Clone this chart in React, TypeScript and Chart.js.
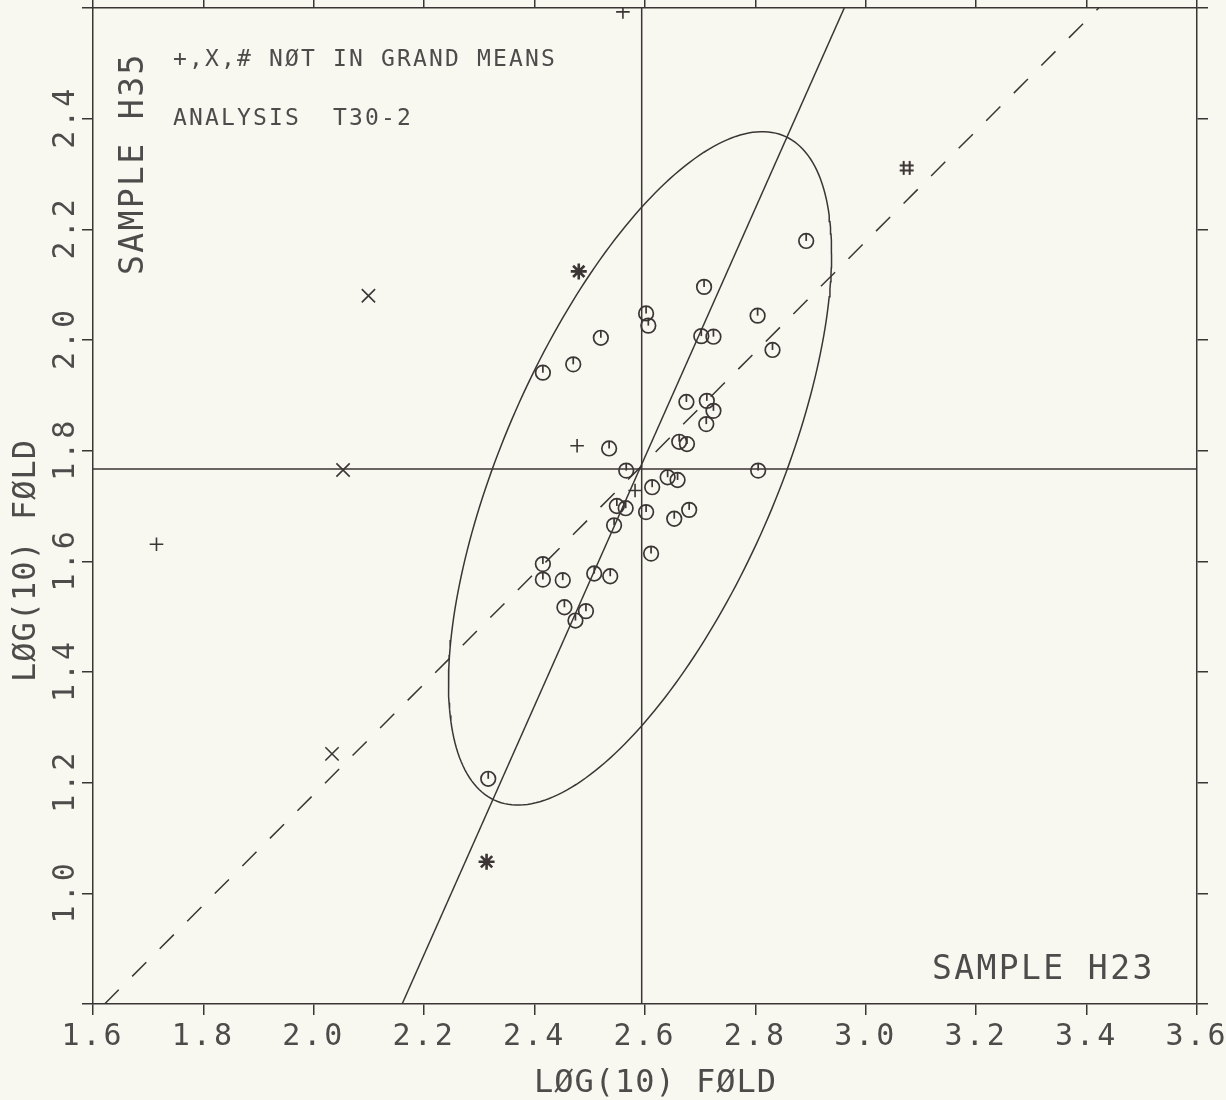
import React, { useEffect, useRef } from 'react';
import { Chart, registerables } from 'chart.js';

Chart.register(...registerables);

// ---------- axis ticks ----------
const X_TICKS = [1.6, 1.8, 2.0, 2.2, 2.4, 2.6, 2.8, 3.0, 3.2, 3.4, 3.6];
const X_TICK_LABELS = ['1.6', '1.8', '2.0', '2.2', '2.4', '2.6', '2.8', '3.0', '3.2', '3.4', '3.6'];
const Y_TICKS = [0.8, 1.0, 1.2, 1.4, 1.6, 1.8, 2.0, 2.2, 2.4, 2.6];
const Y_TICK_LABELS = ['', '1.0', '1.2', '1.4', '1.6', '1.8', '2.0', '2.2', '2.4', ''];

// ---------- data: samples in grand means (circles) ----------
const CIRCLE_X = [
  2.316, 2.415, 2.415, 2.415, 2.451, 2.454, 2.474, 2.493, 2.508, 2.537,
  2.470, 2.520, 2.535, 2.544, 2.549, 2.565, 2.566, 2.602, 2.602, 2.606,
  2.613, 2.611, 2.641, 2.659, 2.653, 2.680, 2.662, 2.676, 2.675, 2.712,
  2.724, 2.711, 2.702, 2.724, 2.707, 2.804, 2.831, 2.805, 2.892,
];
const CIRCLE_Y = [
  1.207, 1.595, 1.567, 1.941, 1.566, 1.517, 1.493, 1.510, 1.578, 1.573,
  1.956, 2.004, 1.804, 1.665, 1.700, 1.696, 1.764, 1.689, 2.048, 2.026,
  1.734, 1.614, 1.752, 1.747, 1.677, 1.693, 1.816, 1.812, 1.888, 1.890,
  1.872, 1.848, 2.007, 2.006, 2.096, 2.044, 1.982, 1.764, 2.179,
];

// ---------- data: samples not in grand means ----------
const PLUS_X = [2.560, 1.715, 2.477, 2.582];
const PLUS_Y = [2.593, 1.631, 1.809, 1.728];
const CROSS_X = [2.099, 2.053, 2.033];
const CROSS_Y = [2.080, 1.765, 1.252];
const STAR_X = [2.480, 2.313];
const STAR_Y = [2.124, 1.057];
const HASH_X = [3.074];
const HASH_Y = [2.311];

// ---------- grand means, axis lines, confidence ellipse ----------
const MEAN_X = 2.594;
const MEAN_Y = 1.767;
const MAJOR_AXIS_X = [2.160, 2.961];
const MAJOR_AXIS_Y = [0.8, 2.6];
const EQUALITY_X = [1.621, 3.422];
const EQUALITY_Y = [0.8, 2.6];
const ELLIPSE_CENTER = [2.591, 1.768];
const ELLIPSE_COV = [0.1204, 0.1347, 0.3703]; // sxx, sxy, syy

const X_MIN = 1.6, X_MAX = 3.6, Y_MIN = 0.8, Y_MAX = 2.6;

const BG = '#f8f8f0';
const INK = '#3b3535';
const TEXT = '#4e4b4b';
const MONO = '"DejaVu Sans Mono", "Liberation Mono", monospace';

function zip(xs: number[], ys: number[]) {
  return xs.map((x, i) => ({ x, y: ys[i] }));
}

function ellipsePoints() {
  const [cx, cy] = ELLIPSE_CENTER;
  const [sxx, sxy, syy] = ELLIPSE_COV;
  const a = Math.sqrt(sxx);
  const b = sxy / a;
  const c = Math.sqrt(syy - b * b);
  const pts: { x: number; y: number }[] = [];
  for (let i = 0; i <= 240; i++) {
    const t = (i / 240) * Math.PI * 2;
    pts.push({ x: cx + a * Math.cos(t), y: cy + b * Math.cos(t) + c * Math.sin(t) });
  }
  return pts;
}

function makeHashSymbol() {
  const cv = document.createElement('canvas');
  cv.width = 20; cv.height = 20;
  const g = cv.getContext('2d')!;
  g.strokeStyle = INK;
  g.lineWidth = 2;
  g.beginPath();
  g.moveTo(7, 3); g.lineTo(7, 17);
  g.moveTo(13, 3); g.lineTo(13, 17);
  g.moveTo(3, 7.5); g.lineTo(17, 7.5);
  g.moveTo(3, 12.5); g.lineTo(17, 12.5);
  g.stroke();
  return cv;
}

function drawSpaced(
  ctx: CanvasRenderingContext2D,
  text: string,
  x: number,
  y: number,
  spacing: number,
  align: 'left' | 'center',
  rotate = 0,
) {
  ctx.save();
  ctx.letterSpacing = spacing + 'px';
  ctx.textAlign = 'left';
  ctx.textBaseline = 'alphabetic';
  ctx.translate(x, y);
  if (rotate) ctx.rotate(rotate);
  let dx = 0;
  if (align === 'center') {
    const w = ctx.measureText(text).width - spacing;
    dx = -w / 2;
  }
  ctx.fillText(text, dx, 0);
  ctx.restore();
}

const paperPlugin = {
  id: 'paper',
  beforeDraw(chart: any) {
    const ctx = chart.ctx as CanvasRenderingContext2D;
    ctx.save();
    ctx.fillStyle = BG;
    ctx.fillRect(0, 0, chart.width, chart.height);
    ctx.restore();
    ctx.letterSpacing = '3px';
  },
  afterDraw(chart: any) {
    const ctx = chart.ctx as CanvasRenderingContext2D;
    const ys = chart.scales.y;
    ctx.save();
    ctx.fillStyle = TEXT;

    // y tick labels, rotated, read bottom to top
    ctx.font = '30px ' + MONO;
    Y_TICKS.forEach((v, i) => {
      const lab = Y_TICK_LABELS[i];
      if (!lab) return;
      const py = ys.getPixelForValue(v);
      ctx.save();
      ctx.letterSpacing = '3px';
      ctx.translate(73.5, py);
      ctx.rotate(-Math.PI / 2);
      const w = ctx.measureText(lab).width - 3;
      ctx.textBaseline = 'alphabetic';
      ctx.fillText(lab, -w / 2, 0);
      ctx.restore();
    });

    // axis titles
    ctx.font = '32px ' + MONO;
    drawSpaced(ctx, 'LØG(10) FØLD', 655, 1092, 1, 'center');
    drawSpaced(ctx, 'LØG(10) FØLD', 35, 561, 1, 'center', -Math.PI / 2);

    // sample labels
    ctx.font = '33px ' + MONO;
    drawSpaced(ctx, 'SAMPLE H35', 143, 275, 2.4, 'left', -Math.PI / 2);
    drawSpaced(ctx, 'SAMPLE H23', 932, 979, 2.4, 'left');

    // notes
    ctx.font = '23px ' + MONO;
    drawSpaced(ctx, '+,X,# NØT IN GRAND MEANS', 173, 66, 2.15, 'left');
    drawSpaced(ctx, 'ANALYSIS  T30-2', 173, 125, 2.15, 'left');

    ctx.restore();
  },
};

function fixedTicks(values: number[]) {
  return (scale: any) => {
    scale.ticks = values.map((v) => ({ value: v }));
  };
}

export default function App() {
  const ref = useRef<HTMLCanvasElement | null>(null);

  useEffect(() => {
    document.body.style.margin = '0';
    document.body.style.background = BG;
    const canvas = ref.current!;
    const hash = makeHashSymbol();

    const lineDs = (data: any[], dash: number[] = []) => ({
      type: 'scatter' as const,
      data,
      showLine: true,
      borderColor: INK,
      borderWidth: 1.5,
      borderDash: dash,
      pointRadius: 0,
      pointHoverRadius: 0,
      fill: false,
      tension: 0,
      xAxisID: 'x',
      yAxisID: 'y',
    });
    const pointDs = (data: any[], style: any, radius: number, width: number, rotation = 0) => ({
      type: 'scatter' as const,
      data,
      showLine: false,
      pointStyle: style,
      pointRadius: radius,
      pointHoverRadius: radius,
      pointRotation: rotation,
      pointBorderColor: INK,
      pointBackgroundColor: 'rgba(0,0,0,0)',
      pointBorderWidth: width,
      xAxisID: 'x',
      yAxisID: 'y',
    });

    const tickFont = { family: MONO, size: 30 };
    const circles = zip(CIRCLE_X, CIRCLE_Y);

    const chart = new Chart(canvas, {
      type: 'scatter',
      data: {
        datasets: [
          pointDs(circles, 'circle', 7.3, 1.7),
          pointDs(circles, 'dash', 7.3, 1.7, -90),
          pointDs(zip(PLUS_X, PLUS_Y), 'cross', 6.8, 1.6),
          pointDs(zip(CROSS_X, CROSS_Y), 'crossRot', 9.4, 1.6),
          pointDs(zip(STAR_X, STAR_Y), 'star', 8, 2.6),
          pointDs(zip(HASH_X, HASH_Y), hash, 8, 1.6),
          lineDs(ellipsePoints()),
          lineDs(zip(MAJOR_AXIS_X, MAJOR_AXIS_Y)),
          lineDs(zip(EQUALITY_X, EQUALITY_Y), [20, 19]),
          lineDs([{ x: MEAN_X, y: Y_MIN }, { x: MEAN_X, y: Y_MAX }]),
          lineDs([{ x: X_MIN, y: MEAN_Y }, { x: X_MAX, y: MEAN_Y }]),
        ] as any,
      },
      options: {
        animation: false,
        responsive: false,
        devicePixelRatio: 1,
        events: [],
        layout: { padding: 0, autoPadding: false },
        plugins: {
          legend: { display: false },
          tooltip: { enabled: false },
          title: { display: false },
        },
        scales: {
          x: {
            type: 'linear',
            position: 'bottom',
            min: X_MIN,
            max: X_MAX,
            afterBuildTicks: fixedTicks(X_TICKS),
            afterFit: (s: any) => {
              s.height = 96;
              s.paddingLeft = 0;
              s.paddingRight = 0;
            },
            ticks: {
              font: tickFont,
              color: TEXT,
              padding: 4,
              maxRotation: 0,
              minRotation: 0,
              autoSkip: false,
              callback: (_v: any, i: number) => X_TICK_LABELS[i],
            },
            grid: { drawOnChartArea: false, drawTicks: true, tickLength: 11, tickColor: INK, lineWidth: 1.5 },
            border: { display: true, color: INK, width: 1.5 },
          },
          y: {
            type: 'linear',
            position: 'left',
            min: Y_MIN,
            max: Y_MAX,
            afterBuildTicks: fixedTicks(Y_TICKS),
            afterFit: (s: any) => { s.width = 93; s.paddingTop = 0; s.paddingBottom = 0; },
            ticks: { display: false },
            grid: { drawOnChartArea: false, drawTicks: true, tickLength: 11, tickColor: INK, lineWidth: 1.5 },
            border: { display: true, color: INK, width: 1.5 },
          },
          x2: {
            type: 'linear',
            position: 'top',
            min: X_MIN,
            max: X_MAX,
            afterBuildTicks: fixedTicks(X_TICKS),
            afterFit: (s: any) => { s.height = 8; s.paddingLeft = 0; s.paddingRight = 0; },
            ticks: { display: false },
            grid: { drawOnChartArea: false, drawTicks: true, tickLength: 8, tickColor: INK, lineWidth: 1.5 },
            border: { display: true, color: INK, width: 1.5 },
          },
          y2: {
            type: 'linear',
            position: 'right',
            min: Y_MIN,
            max: Y_MAX,
            afterBuildTicks: fixedTicks(Y_TICKS),
            afterFit: (s: any) => { s.width = 29; s.paddingTop = 0; s.paddingBottom = 0; },
            ticks: { display: false },
            grid: { drawOnChartArea: false, drawTicks: true, tickLength: 11, tickColor: INK, lineWidth: 1.5 },
            border: { display: true, color: INK, width: 1.5 },
          },
        } as any,
      },
      plugins: [paperPlugin],
    });

    return () => chart.destroy();
  }, []);

  return (
    <div style={{ width: 1226, height: 1100, background: BG }}>
      <canvas ref={ref} width={1226} height={1100} style={{ display: 'block', width: 1226, height: 1100 }} />
    </div>
  );
}
